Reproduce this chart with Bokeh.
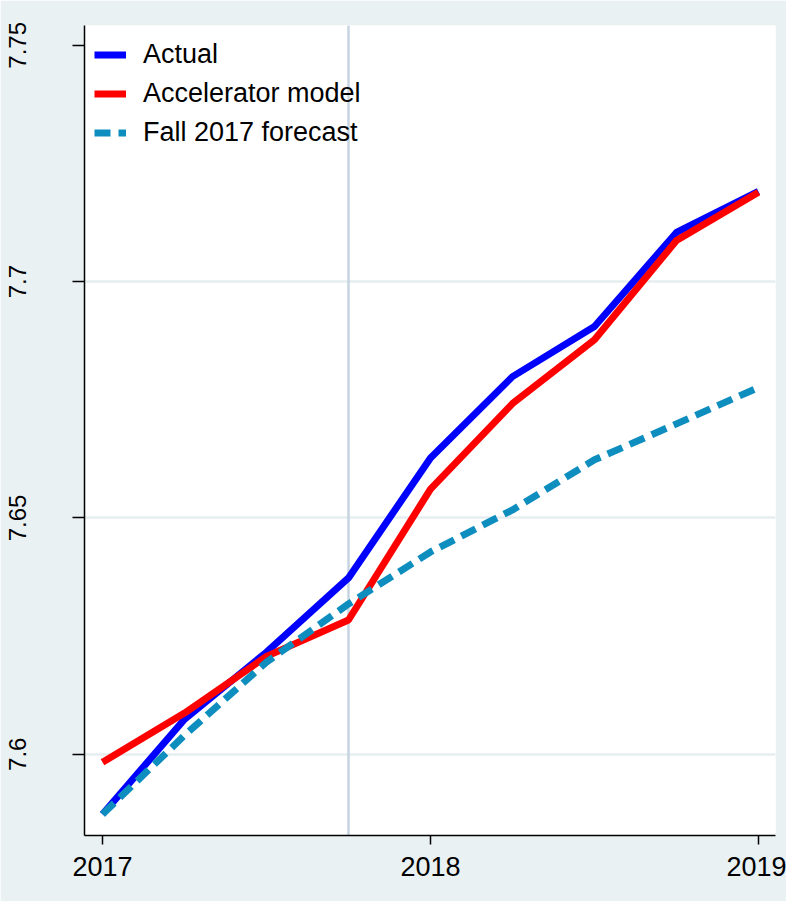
from bokeh.plotting import figure
from bokeh.models import Range1d, FixedTicker, Span, Legend, LegendItem
from bokeh.embed import file_html
from bokeh.resources import INLINE

# Data (quarterly)
quarters = [2017.0, 2017.25, 2017.5, 2017.75, 2018.0, 2018.25, 2018.5, 2018.75, 2019.0]
actual = [7.5873, 7.6074, 7.6216, 7.6373, 7.6627, 7.6799, 7.6905, 7.7104, 7.7191]
accelerator = [7.5983, 7.6087, 7.6207, 7.6284, 7.6561, 7.6742, 7.6877, 7.7087, 7.7189]
forecast = [7.5873, 7.6040, 7.6195, 7.6318, 7.6428, 7.6517, 7.6623, 7.6699, 7.6776]
x_ticks = [2017, 2018, 2019]
y_ticks = [7.6, 7.65, 7.7, 7.75]
y_tick_labels = ["7.6", "7.65", "7.7", "7.75"]
grid_ticks = [7.6, 7.65, 7.7]
forecast_start = 2017.75

BG = "#e9f1f3"

p = figure(width=786, height=901, output_backend="svg", toolbar_location=None,
           x_range=Range1d(2016.945, 2019.052), y_range=Range1d(7.5828, 7.7542),
           background_fill_color="white", border_fill_color=BG,
           min_border_left=84, min_border_top=25, min_border_right=11, min_border_bottom=66)
p.outline_line_color = None

# vertical marker line
p.add_layout(Span(location=forecast_start, dimension="height", line_color="#c6d4e1",
                  line_width=2.5, level="underlay"))

r_act = p.line(quarters, actual, line_color="#0000ff", line_width=7)
r_acc = p.line(quarters, accelerator, line_color="#ff0000", line_width=7)
r_fc = p.line(quarters, forecast, line_color="#0e8dbf", line_width=7, line_dash="16 8")

# axes
p.xaxis.ticker = FixedTicker(ticks=x_ticks)
p.yaxis.ticker = FixedTicker(ticks=y_ticks)
p.yaxis.major_label_overrides = {t: s for t, s in zip(y_ticks, y_tick_labels)}
p.yaxis.major_label_orientation = "vertical"
for ax in (p.xaxis[0], p.yaxis[0]):
    ax.axis_line_color = "black"
    ax.axis_line_width = 1.5
    ax.major_tick_line_color = "black"
    ax.major_tick_line_width = 1.5
    ax.minor_tick_line_color = None
    ax.major_tick_in = 0
    ax.major_label_text_font = "Liberation Sans"
    ax.major_label_text_color = "black"
p.xaxis.major_tick_out = 9
p.yaxis.major_tick_out = 12
p.xaxis.major_label_text_font_size = "27px"
p.yaxis.major_label_text_font_size = "24px"
p.xaxis.major_label_standoff = 12
p.yaxis.major_label_standoff = 46

# grid
p.xgrid.grid_line_color = None
p.ygrid.ticker = FixedTicker(ticks=grid_ticks)
p.ygrid.grid_line_color = "#e6eef0"
p.ygrid.grid_line_width = 2.5

legend = Legend(items=[LegendItem(label="Actual", renderers=[r_act]),
                       LegendItem(label="Accelerator model", renderers=[r_acc]),
                       LegendItem(label="Fall 2017 forecast", renderers=[r_fc])],
                location="top_left")
legend.margin = 0
legend.padding = 10
legend.spacing = 0
legend.glyph_width = 32
legend.glyph_height = 39
legend.label_height = 39
legend.label_standoff = 17
legend.label_text_font = "Liberation Sans"
legend.label_text_font_size = "27px"
legend.label_text_color = "black"
legend.border_line_alpha = 0
legend.background_fill_alpha = 0
p.add_layout(legend)

open("out.html", "w").write(file_html(p, INLINE))
